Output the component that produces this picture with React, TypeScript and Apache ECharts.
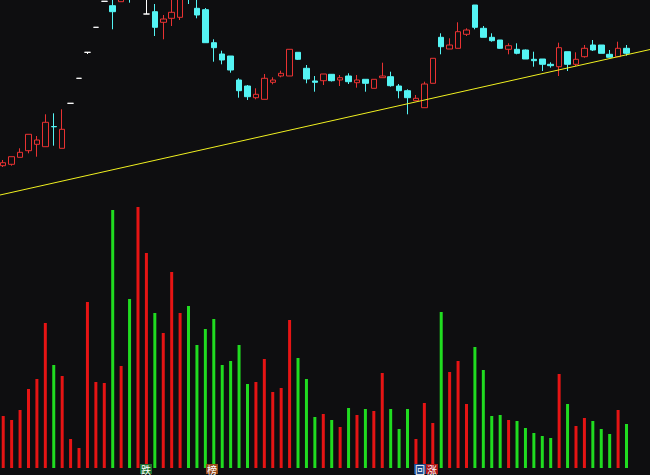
import { useEffect, useRef } from "react";
import * as echarts from "echarts";

// 75 trading days + 3 empty slots at the right edge
const days: string[] = [
  "1","2","3","4","5","6","7","8","9","10","11","12","13","14","15","16","17","18","19","20",
  "21","22","23","24","25","26","27","28","29","30","31","32","33","34","35","36","37","38","39","40",
  "41","42","43","44","45","46","47","48","49","50","51","52","53","54","55","56","57","58","59","60",
  "61","62","63","64","65","66","67","68","69","70","71","72","73","74","75","76","77","78",
];

// [open, close, low, high]
const candles: number[][] = [
  [13.43, 13.73, 13.3, 14.0],
  [13.57, 14.33, 13.43, 14.33],
  [14.27, 14.77, 14.27, 15.17],
  [14.93, 16.57, 14.67, 16.57],
  [15.57, 16.0, 14.33, 16.4],
  [15.33, 17.77, 15.33, 18.57],
  [17.35, 17.32, 15.43, 18.67],
  [15.17, 17.07, 15.17, 19.07],
  [19.67, 19.67, 19.67, 19.67],
  [22.17, 22.17, 22.17, 22.17],
  [24.77, 24.77, 24.6, 24.77],
  [27.27, 27.27, 27.27, 27.27],
  [29.87, 29.87, 29.87, 29.87],
  [29.43, 28.83, 27.07, 30.6],
  [29.83, 31.5, 29.83, 32.0],
  [32.5, 31.2, 29.73, 33.0],
  [31.5, 33.0, 30.3, 33.5],
  [28.6, 28.6, 28.6, 31.0],
  [28.83, 27.27, 26.4, 29.6],
  [27.77, 28.1, 26.07, 28.5],
  [28.17, 28.77, 27.4, 30.2],
  [28.27, 30.3, 28.0, 30.8],
  [31.5, 30.6, 29.6, 32.0],
  [29.17, 28.5, 28.17, 30.3],
  [29.03, 25.73, 25.73, 29.2],
  [25.73, 25.23, 23.83, 26.07],
  [24.6, 24.0, 23.57, 24.93],
  [24.4, 23.0, 22.73, 24.4],
  [22.0, 20.93, 20.23, 22.17],
  [21.4, 20.33, 20.0, 21.5],
  [20.23, 20.57, 20.07, 21.17],
  [20.07, 22.17, 20.07, 22.6],
  [21.77, 22.0, 21.57, 22.27],
  [22.4, 22.67, 22.27, 22.93],
  [22.4, 25.07, 22.4, 25.07],
  [24.77, 24.07, 24.0, 24.77],
  [23.17, 22.1, 21.67, 23.5],
  [21.9, 21.77, 20.83, 22.4],
  [21.93, 22.6, 21.5, 22.6],
  [22.57, 21.93, 21.85, 22.6],
  [22.0, 22.23, 21.4, 22.5],
  [22.4, 21.83, 21.6, 22.67],
  [21.73, 22.0, 21.23, 22.5],
  [22.07, 21.67, 20.83, 22.07],
  [21.17, 22.07, 21.17, 22.07],
  [22.23, 22.4, 22.23, 23.73],
  [22.33, 21.43, 21.33, 22.83],
  [21.4, 20.93, 20.17, 21.6],
  [20.93, 20.23, 18.57, 21.07],
  [19.93, 20.17, 19.9, 20.5],
  [19.23, 21.6, 19.23, 21.83],
  [21.67, 24.17, 21.67, 24.17],
  [26.27, 25.33, 24.57, 26.67],
  [25.1, 25.5, 25.1, 26.17],
  [25.17, 26.83, 25.17, 27.77],
  [26.57, 27.0, 26.4, 27.17],
  [29.5, 27.27, 27.07, 29.5],
  [27.17, 26.27, 26.27, 27.4],
  [26.27, 25.93, 25.83, 26.67],
  [26.0, 25.17, 25.13, 26.0],
  [25.07, 25.43, 24.57, 25.67],
  [25.07, 24.67, 24.57, 25.67],
  [25.0, 24.1, 24.1, 25.05],
  [24.07, 23.93, 23.33, 24.83],
  [24.1, 23.57, 22.9, 24.1],
  [23.57, 23.43, 23.23, 23.77],
  [23.33, 25.23, 22.4, 25.73],
  [24.83, 23.57, 22.9, 24.83],
  [23.57, 24.07, 23.4, 24.77],
  [24.33, 25.17, 24.23, 25.5],
  [25.5, 25.0, 24.9, 26.0],
  [25.5, 24.67, 24.67, 25.5],
  [24.57, 24.27, 24.27, 25.0],
  [24.33, 25.17, 24.33, 25.83],
  [25.17, 24.67, 24.43, 25.5],
];

const volumes: number[] = [
  52, 48, 58, 79, 89, 145, 103, 92, 29, 20,
  166, 86, 85, 258, 102, 169, 261, 215, 155, 135,
  196, 155, 162, 123, 139, 149, 103, 107, 123, 84,
  86, 109, 76, 80, 148, 110, 89, 51, 54, 48,
  41, 60, 53, 59, 57, 95, 59, 39, 59, 29,
  65, 45, 156, 96, 107, 64, 121, 98, 52, 53,
  48, 47, 40, 35, 32, 30, 94, 64, 42, 50,
  47, 39, 34, 58, 44,
];

// one-price (limit) days drawn in white
const whiteDays: number[] = [8, 9, 10, 11, 12, 17];

// trend line in (day index, price) space
const trendLine: number[][] = [
  [-0.38, 10.5],
  [76.8, 25.05],
];

const tagTexts: string[] = ["跌", "榜", "回", "涨"];

const BG = "#0e0e10";
const UP = "#e83232";
const DOWN = "#54f4f4";
const VOL_UP = "#e61414";
const VOL_DOWN = "#20dc20";

export default function App() {
  const ref = useRef<HTMLDivElement>(null);

  useEffect(() => {
    if (!ref.current) return;
    const chart = echarts.init(ref.current, undefined, { renderer: "svg" });

    const candleData = candles.map((c, i) =>
      whiteDays.includes(i)
        ? {
            value: c,
            itemStyle: { color: "#ffffff", color0: "#ffffff", borderColor: "#ffffff", borderColor0: "#ffffff" },
          }
        : { value: c }
    );

    const volData = volumes.map((v, i) => ({
      value: v,
      itemStyle: { color: candles[i][1] >= candles[i][0] ? VOL_UP : VOL_DOWN },
    }));

    const tagStyle = (text: string, bg: string, x: number) => ({
      type: "text",
      left: x,
      top: 464,
      z: 10,
      style: {
        text,
        fill: "#ffffff",
        font: "10px 'Noto Sans CJK SC'",
        lineHeight: 10,
        backgroundColor: bg,
        padding: [0, 1, 0, 1],
      },
    });

    chart.setOption({
      animation: false,
      backgroundColor: BG,
      grid: [
        { left: -1, top: 0, width: 657, height: 200, outerBoundsMode: "none" },
        { left: -1, top: 200, width: 657, height: 268, outerBoundsMode: "none" },
      ],
      xAxis: [
        { type: "category", data: days, gridIndex: 0, show: false, boundaryGap: true },
        { type: "value", gridIndex: 0, min: -0.5, max: 77.5, show: false },
        { type: "category", data: days, gridIndex: 1, show: false, boundaryGap: true },
      ],
      yAxis: [
        { type: "value", gridIndex: 0, min: 10, max: 30, show: false, splitLine: { show: false } },
        { type: "value", gridIndex: 1, min: 0, max: 268, show: false, splitLine: { show: false } },
      ],
      series: [
        {
          type: "candlestick",
          xAxisIndex: 0,
          yAxisIndex: 0,
          data: candleData,
          barWidth: 6,
          clip: true,
          itemStyle: {
            color: BG,
            color0: DOWN,
            borderColor: UP,
            borderColor0: DOWN,
            borderWidth: 1,
          },
        },
        {
          type: "line",
          xAxisIndex: 1,
          yAxisIndex: 0,
          data: trendLine,
          symbol: "none",
          clip: false,
          lineStyle: { color: "#f0f020", width: 1 },
          z: 5,
        },
        {
          type: "bar",
          xAxisIndex: 2,
          yAxisIndex: 1,
          data: volData,
          barWidth: 3,
        },
      ],
      graphic: [
        tagStyle(tagTexts[0], "#1e7030", 140),
        tagStyle(tagTexts[1], "#9a4a1a", 206),
        tagStyle(tagTexts[2], "#1c4a8c", 414),
        tagStyle(tagTexts[3], "#b01616", 426),
      ],
    });

    return () => chart.dispose();
  }, []);

  return (
    <div
      ref={ref}
      style={{ position: "fixed", left: 0, top: 0, width: 650, height: 475 }}
    />
  );
}
